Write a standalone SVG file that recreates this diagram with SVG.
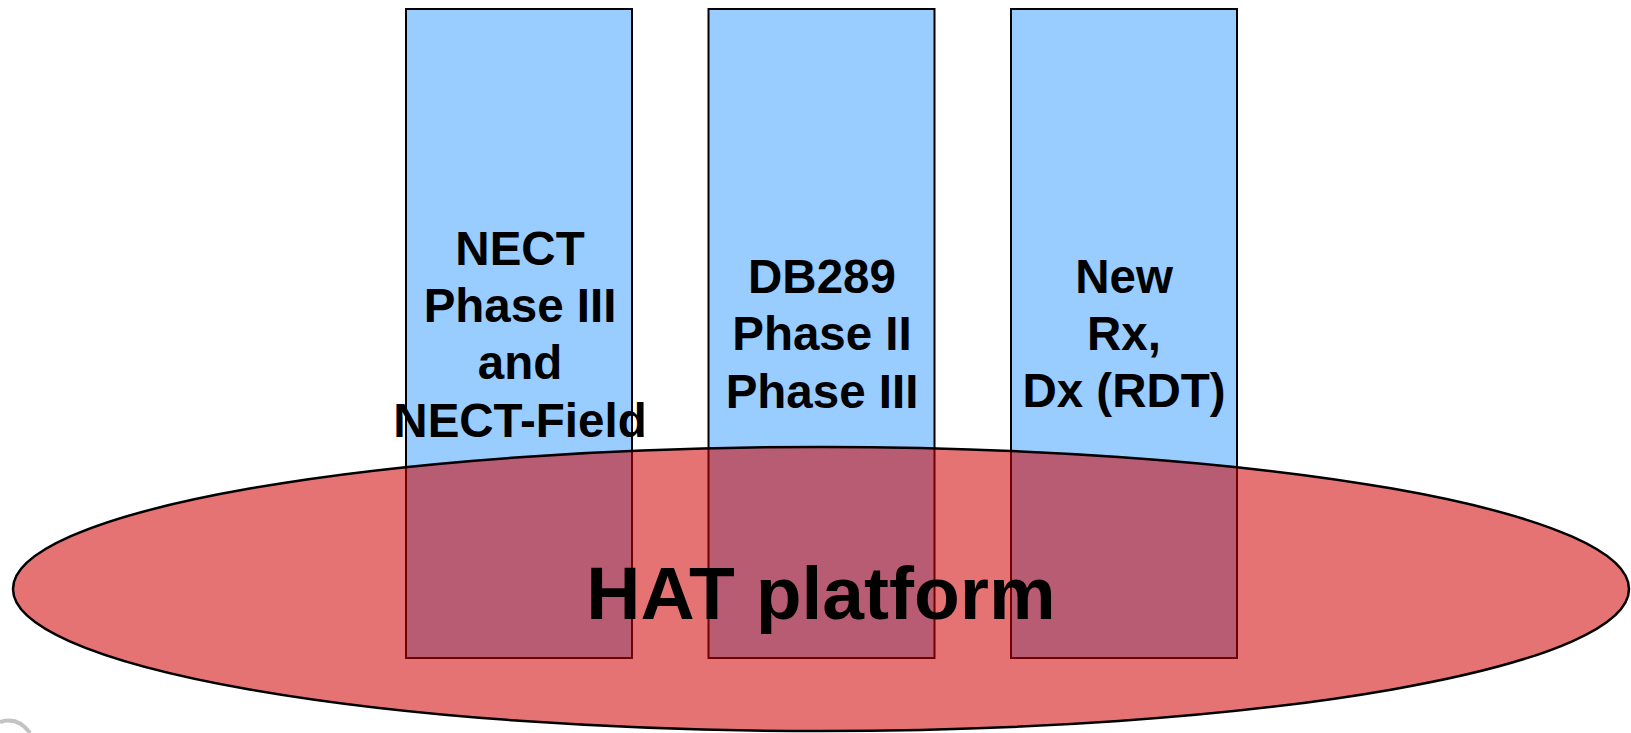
<svg xmlns="http://www.w3.org/2000/svg" width="1631" height="733" viewBox="0 0 1631 733">
<style>
.col{fill:#99CCFF;stroke:#000;stroke-width:2}
.lbl{font-family:"Liberation Sans",Arial,sans-serif;font-weight:bold;font-size:47.5px;fill:#000;text-anchor:middle}
.big{font-family:"Liberation Sans",Arial,sans-serif;font-weight:bold;font-size:75px;fill:#000;text-anchor:middle}
</style>
<rect width="1631" height="733" fill="#fff"/>
<g id="logo-fragment">
<path d="M0,722 Q18,716 30,733" fill="none" stroke="#aaa" stroke-width="4" opacity="0.7"/>
</g>
<g id="col-nect">
<rect class="col" x="406" y="9" width="226" height="649"/>
</g>
<g id="col-db289">
<rect class="col" x="708.5" y="9" width="226" height="649"/>
</g>
<g id="col-new">
<rect class="col" x="1011" y="9" width="226" height="649"/>
</g>
<g id="hat-platform">
<ellipse cx="821" cy="589" rx="808" ry="142" fill="#D20000" fill-opacity="0.55" stroke="#000" stroke-width="2.5"/>
<text class="big" x="821" y="619">HAT platform</text>
</g>
<g id="labels">
<text class="lbl" x="520" y="264.5">NECT</text>
<text class="lbl" x="520" y="322">Phase III</text>
<text class="lbl" x="520" y="378.5">and</text>
<text class="lbl" x="520" y="436.5">NECT-Field</text>
<text class="lbl" x="822" y="293">DB289</text>
<text class="lbl" x="822" y="350">Phase II</text>
<text class="lbl" x="822" y="408">Phase III</text>
<text class="lbl" x="1124" y="293">New</text>
<text class="lbl" x="1124" y="350">Rx,</text>
<text class="lbl" x="1124" y="407">Dx (RDT)</text>
</g>
<g id="connectors"/>
</svg>
